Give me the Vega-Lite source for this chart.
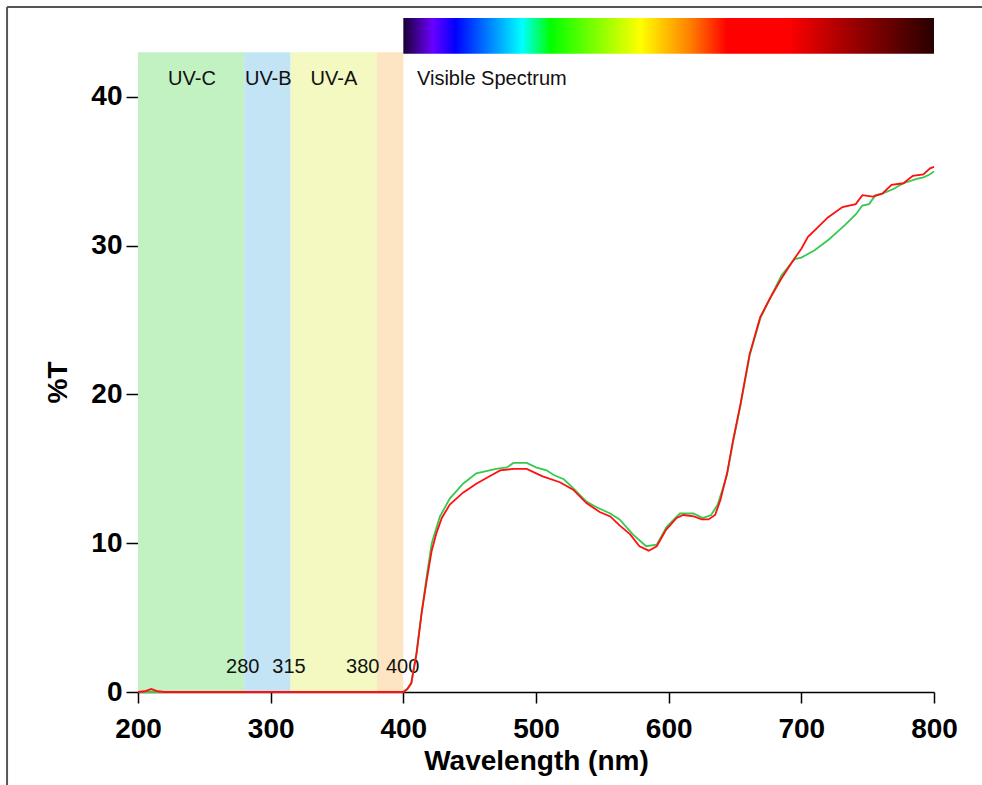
{
  "$schema": "https://vega.github.io/schema/vega-lite/v6.json",
  "width": 796,
  "height": 674,
  "autosize": {"type": "none"},
  "padding": {"left": 138, "top": 18, "right": 48, "bottom": 93},
  "background": "white",
  "config": {
    "view": {"stroke": null},
    "font": "Liberation Sans",
    "axisX": {
      "tickSize": 11, "tickColor": "black", "tickWidth": 1.5,
      "domainColor": "black", "domainWidth": 1.5,
      "labelFont": "Liberation Sans", "labelFontWeight": "bold", "labelFontSize": 28, "labelColor": "black",
      "labelPadding": 12, "labelFlush": false, "labelOverlap": false,
      "titleFont": "Liberation Sans", "titleFontWeight": "bold", "titleFontSize": 28, "titleColor": "black",
      "titleBaseline": "alphabetic", "titleY": 77,
      "grid": false
    },
    "axisY": {
      "domain": false,
      "tickSize": 12, "tickColor": "black", "tickWidth": 1.5,
      "labelFont": "Liberation Sans", "labelFontWeight": "bold", "labelFontSize": 28, "labelColor": "black",
      "labelPadding": 4, "labelFlush": false, "labelOverlap": false,
      "titleFont": "Liberation Sans", "titleFontWeight": "bold", "titleFontSize": 28, "titleColor": "black",
      "titleAngle": 270, "titleX": -80, "titleY": 364, "titleAlign": "center", "titleBaseline": "middle",
      "grid": false
    }
  },
  "resolve": {"scale": {"color": "independent"}},
  "layer": [
    {
      "data": {"values": [
        {"band": "UV-C", "start": 200, "end": 280},
        {"band": "UV-B", "start": 280, "end": 315},
        {"band": "UV-A", "start": 315, "end": 380},
        {"band": "Violet", "start": 380, "end": 400}
      ]},
      "mark": {"type": "rect", "opacity": 1},
      "encoding": {
        "x": {"field": "start", "type": "quantitative", "scale": {"domain": [200, 800], "nice": false, "zero": false}, "title": "Wavelength (nm)",
          "axis": {"values": [200, 300, 400, 500, 600, 700, 800]}},
        "x2": {"field": "end"},
        "y": {"datum": 0, "type": "quantitative", "scale": {"domain": [0, 45.31], "nice": false}, "title": "%T",
          "axis": {"values": [0, 10, 20, 30, 40]}},
        "y2": {"datum": 43},
        "color": {"field": "band", "type": "nominal", "legend": null,
          "scale": {"domain": ["UV-C", "UV-B", "UV-A", "Violet"], "range": ["#c2f2c2", "#c2e4f4", "#f3f9c0", "#fde4c2"]}}
      }
    },
    {
      "data": {"values": [{"name": "Visible Spectrum", "from": 400, "to": 800}]},
      "mark": {"type": "rect", "fill": {"gradient": "linear", "x1": 0, "y1": 0, "x2": 1, "y2": 0, "stops": [
        {"offset": 0, "color": "#1a0033"},
        {"offset": 0.055, "color": "#6a00ff"},
        {"offset": 0.098, "color": "#0000ff"},
        {"offset": 0.224, "color": "#00ffff"},
        {"offset": 0.277, "color": "#00ff00"},
        {"offset": 0.447, "color": "#ffff00"},
        {"offset": 0.54, "color": "#ff8000"},
        {"offset": 0.61, "color": "#ff0000"},
        {"offset": 0.725, "color": "#ff0000"},
        {"offset": 0.82, "color": "#b00000"},
        {"offset": 1, "color": "#280000"}
      ]}},
      "encoding": {
        "x": {"field": "from", "type": "quantitative", "title": "Wavelength (nm)", "axis": {"values": [200, 300, 400, 500, 600, 700, 800]}},
        "x2": {"field": "to"},
        "y": {"datum": 42.9, "type": "quantitative", "axis": {"values": [0, 10, 20, 30, 40]}},
        "y2": {"datum": 45.31}
      }
    },
    {
      "data": {"values": [
        {"label": "UV-C", "wl": 240.7},
        {"label": "UV-B", "wl": 298.2},
        {"label": "UV-A", "wl": 347.7}
      ]},
      "mark": {"type": "text", "font": "Liberation Sans", "fontSize": 20, "color": "#111", "align": "center", "baseline": "alphabetic"},
      "encoding": {
        "x": {"field": "wl", "type": "quantitative", "title": "Wavelength (nm)", "axis": {"values": [200, 300, 400, 500, 600, 700, 800]}},
        "y": {"datum": 40.8, "type": "quantitative", "axis": {"values": [0, 10, 20, 30, 40]}},
        "text": {"field": "label"}
      }
    },
    {
      "data": {"values": [{"label": "Visible Spectrum", "wl": 410.3}]},
      "mark": {"type": "text", "font": "Liberation Sans", "fontSize": 20, "color": "#111", "align": "left", "baseline": "alphabetic"},
      "encoding": {
        "x": {"field": "wl", "type": "quantitative", "title": "Wavelength (nm)", "axis": {"values": [200, 300, 400, 500, 600, 700, 800]}},
        "y": {"datum": 40.8, "type": "quantitative", "axis": {"values": [0, 10, 20, 30, 40]}},
        "text": {"field": "label"}
      }
    },
    {
      "data": {"values": [
        {"label": "280", "wl": 279},
        {"label": "315", "wl": 313.8},
        {"label": "380", "wl": 369.4},
        {"label": "400", "wl": 399.5}
      ]},
      "mark": {"type": "text", "font": "Liberation Sans", "fontSize": 20, "color": "#111", "align": "center", "baseline": "alphabetic"},
      "encoding": {
        "x": {"field": "wl", "type": "quantitative", "title": "Wavelength (nm)", "axis": {"values": [200, 300, 400, 500, 600, 700, 800]}},
        "y": {"datum": 1.3, "type": "quantitative", "axis": {"values": [0, 10, 20, 30, 40]}},
        "text": {"field": "label"}
      }
    },
    {
      "data": {"values": [
        {"s": "Sample 1", "wl": 200, "T": 0}, {"s": "Sample 1", "wl": 250, "T": 0}, {"s": "Sample 1", "wl": 300, "T": 0}, {"s": "Sample 1", "wl": 350, "T": 0},
        {"s": "Sample 1", "wl": 398, "T": 0}, {"s": "Sample 1", "wl": 400, "T": 0}, {"s": "Sample 1", "wl": 403, "T": 0.2}, {"s": "Sample 1", "wl": 406, "T": 0.6},
        {"s": "Sample 1", "wl": 410, "T": 2.7}, {"s": "Sample 1", "wl": 414, "T": 5.5}, {"s": "Sample 1", "wl": 418, "T": 8.0}, {"s": "Sample 1", "wl": 421.4, "T": 10.0},
        {"s": "Sample 1", "wl": 427.6, "T": 11.8}, {"s": "Sample 1", "wl": 435, "T": 13.0}, {"s": "Sample 1", "wl": 445, "T": 14.0}, {"s": "Sample 1", "wl": 455, "T": 14.7},
        {"s": "Sample 1", "wl": 465, "T": 14.9}, {"s": "Sample 1", "wl": 470, "T": 15.0}, {"s": "Sample 1", "wl": 478, "T": 15.1}, {"s": "Sample 1", "wl": 483, "T": 15.4},
        {"s": "Sample 1", "wl": 493, "T": 15.4}, {"s": "Sample 1", "wl": 500, "T": 15.1}, {"s": "Sample 1", "wl": 508, "T": 14.9}, {"s": "Sample 1", "wl": 513, "T": 14.6},
        {"s": "Sample 1", "wl": 521, "T": 14.3}, {"s": "Sample 1", "wl": 528, "T": 13.7}, {"s": "Sample 1", "wl": 538, "T": 12.8}, {"s": "Sample 1", "wl": 546, "T": 12.4},
        {"s": "Sample 1", "wl": 556, "T": 12.0}, {"s": "Sample 1", "wl": 563, "T": 11.6}, {"s": "Sample 1", "wl": 573, "T": 10.6}, {"s": "Sample 1", "wl": 583, "T": 9.8},
        {"s": "Sample 1", "wl": 591, "T": 9.9}, {"s": "Sample 1", "wl": 598.5, "T": 11.1}, {"s": "Sample 1", "wl": 608.5, "T": 12.0}, {"s": "Sample 1", "wl": 618.6, "T": 12.0},
        {"s": "Sample 1", "wl": 626, "T": 11.7}, {"s": "Sample 1", "wl": 632, "T": 11.9}, {"s": "Sample 1", "wl": 637, "T": 12.6}, {"s": "Sample 1", "wl": 644, "T": 14.6},
        {"s": "Sample 1", "wl": 648.5, "T": 16.8}, {"s": "Sample 1", "wl": 654, "T": 19.2}, {"s": "Sample 1", "wl": 661, "T": 22.6}, {"s": "Sample 1", "wl": 669, "T": 25.1},
        {"s": "Sample 1", "wl": 676, "T": 26.4}, {"s": "Sample 1", "wl": 685, "T": 28.0}, {"s": "Sample 1", "wl": 695, "T": 29.1}, {"s": "Sample 1", "wl": 700, "T": 29.2},
        {"s": "Sample 1", "wl": 710, "T": 29.7}, {"s": "Sample 1", "wl": 720.5, "T": 30.4}, {"s": "Sample 1", "wl": 728, "T": 31.0}, {"s": "Sample 1", "wl": 733, "T": 31.4},
        {"s": "Sample 1", "wl": 741, "T": 32.1}, {"s": "Sample 1", "wl": 746, "T": 32.7}, {"s": "Sample 1", "wl": 751, "T": 32.8}, {"s": "Sample 1", "wl": 756, "T": 33.4},
        {"s": "Sample 1", "wl": 761, "T": 33.5}, {"s": "Sample 1", "wl": 769, "T": 33.8}, {"s": "Sample 1", "wl": 777, "T": 34.2}, {"s": "Sample 1", "wl": 787, "T": 34.5},
        {"s": "Sample 1", "wl": 792, "T": 34.6}, {"s": "Sample 1", "wl": 797, "T": 34.8}, {"s": "Sample 1", "wl": 800, "T": 35.0},

        {"s": "Sample 2", "wl": 200, "T": 0}, {"s": "Sample 2", "wl": 205, "T": 0.05}, {"s": "Sample 2", "wl": 210, "T": 0.2}, {"s": "Sample 2", "wl": 215, "T": 0.05},
        {"s": "Sample 2", "wl": 220, "T": 0}, {"s": "Sample 2", "wl": 250, "T": 0}, {"s": "Sample 2", "wl": 300, "T": 0}, {"s": "Sample 2", "wl": 350, "T": 0},
        {"s": "Sample 2", "wl": 398, "T": 0}, {"s": "Sample 2", "wl": 400, "T": 0}, {"s": "Sample 2", "wl": 403, "T": 0.2}, {"s": "Sample 2", "wl": 406, "T": 0.6},
        {"s": "Sample 2", "wl": 410, "T": 2.6}, {"s": "Sample 2", "wl": 413.8, "T": 5.3}, {"s": "Sample 2", "wl": 417.6, "T": 7.5}, {"s": "Sample 2", "wl": 421.4, "T": 9.5},
        {"s": "Sample 2", "wl": 425, "T": 10.7}, {"s": "Sample 2", "wl": 429, "T": 11.7}, {"s": "Sample 2", "wl": 435, "T": 12.6}, {"s": "Sample 2", "wl": 445, "T": 13.4},
        {"s": "Sample 2", "wl": 455, "T": 14.0}, {"s": "Sample 2", "wl": 465, "T": 14.5}, {"s": "Sample 2", "wl": 473, "T": 14.9}, {"s": "Sample 2", "wl": 483, "T": 15.0},
        {"s": "Sample 2", "wl": 493, "T": 15.0}, {"s": "Sample 2", "wl": 505, "T": 14.5}, {"s": "Sample 2", "wl": 518, "T": 14.1}, {"s": "Sample 2", "wl": 528, "T": 13.6},
        {"s": "Sample 2", "wl": 538, "T": 12.7}, {"s": "Sample 2", "wl": 548, "T": 12.1}, {"s": "Sample 2", "wl": 556, "T": 11.8}, {"s": "Sample 2", "wl": 563, "T": 11.2},
        {"s": "Sample 2", "wl": 571, "T": 10.6}, {"s": "Sample 2", "wl": 578, "T": 9.8}, {"s": "Sample 2", "wl": 585, "T": 9.5}, {"s": "Sample 2", "wl": 591, "T": 9.8},
        {"s": "Sample 2", "wl": 598, "T": 10.9}, {"s": "Sample 2", "wl": 606, "T": 11.7}, {"s": "Sample 2", "wl": 611, "T": 11.9}, {"s": "Sample 2", "wl": 619, "T": 11.8},
        {"s": "Sample 2", "wl": 625, "T": 11.6}, {"s": "Sample 2", "wl": 630, "T": 11.6}, {"s": "Sample 2", "wl": 635, "T": 11.9}, {"s": "Sample 2", "wl": 639, "T": 12.9},
        {"s": "Sample 2", "wl": 644, "T": 14.7}, {"s": "Sample 2", "wl": 648.5, "T": 16.9}, {"s": "Sample 2", "wl": 654, "T": 19.3}, {"s": "Sample 2", "wl": 661, "T": 22.7},
        {"s": "Sample 2", "wl": 669, "T": 25.2}, {"s": "Sample 2", "wl": 676, "T": 26.4}, {"s": "Sample 2", "wl": 685, "T": 27.8}, {"s": "Sample 2", "wl": 693, "T": 28.9},
        {"s": "Sample 2", "wl": 700, "T": 29.8}, {"s": "Sample 2", "wl": 705, "T": 30.6}, {"s": "Sample 2", "wl": 712, "T": 31.2}, {"s": "Sample 2", "wl": 720, "T": 31.9},
        {"s": "Sample 2", "wl": 731, "T": 32.6}, {"s": "Sample 2", "wl": 741, "T": 32.8}, {"s": "Sample 2", "wl": 746, "T": 33.4}, {"s": "Sample 2", "wl": 754, "T": 33.3},
        {"s": "Sample 2", "wl": 761, "T": 33.5}, {"s": "Sample 2", "wl": 768, "T": 34.1}, {"s": "Sample 2", "wl": 777, "T": 34.2}, {"s": "Sample 2", "wl": 784, "T": 34.7},
        {"s": "Sample 2", "wl": 792, "T": 34.8}, {"s": "Sample 2", "wl": 797, "T": 35.2}, {"s": "Sample 2", "wl": 800, "T": 35.3}
      ]},
      "mark": {"type": "line", "strokeWidth": 1.8, "interpolate": "linear"},
      "encoding": {
        "x": {"field": "wl", "type": "quantitative", "title": "Wavelength (nm)", "axis": {"values": [200, 300, 400, 500, 600, 700, 800]}},
        "y": {"field": "T", "type": "quantitative", "title": "%T", "axis": {"values": [0, 10, 20, 30, 40]}},
        "color": {"field": "s", "type": "nominal", "legend": null,
          "scale": {"domain": ["Sample 1", "Sample 2"], "range": ["#38c850", "#ff1010"]}}
      }
    },
    {
      "data": {"values": [{"edge": "left"}]},
      "mark": {"type": "rule", "color": "#555", "strokeWidth": 2},
      "encoding": {
        "x": {"datum": 101.3, "type": "quantitative"},
        "y": {"datum": 46.05, "type": "quantitative"},
        "y2": {"datum": -6.3}
      }
    },
    {
      "data": {"values": [{"edge": "top"}]},
      "mark": {"type": "rule", "color": "#555", "strokeWidth": 2},
      "encoding": {
        "x": {"datum": 101.3, "type": "quantitative"},
        "x2": {"datum": 837},
        "y": {"datum": 46.05, "type": "quantitative"}
      }
    }
  ]
}
